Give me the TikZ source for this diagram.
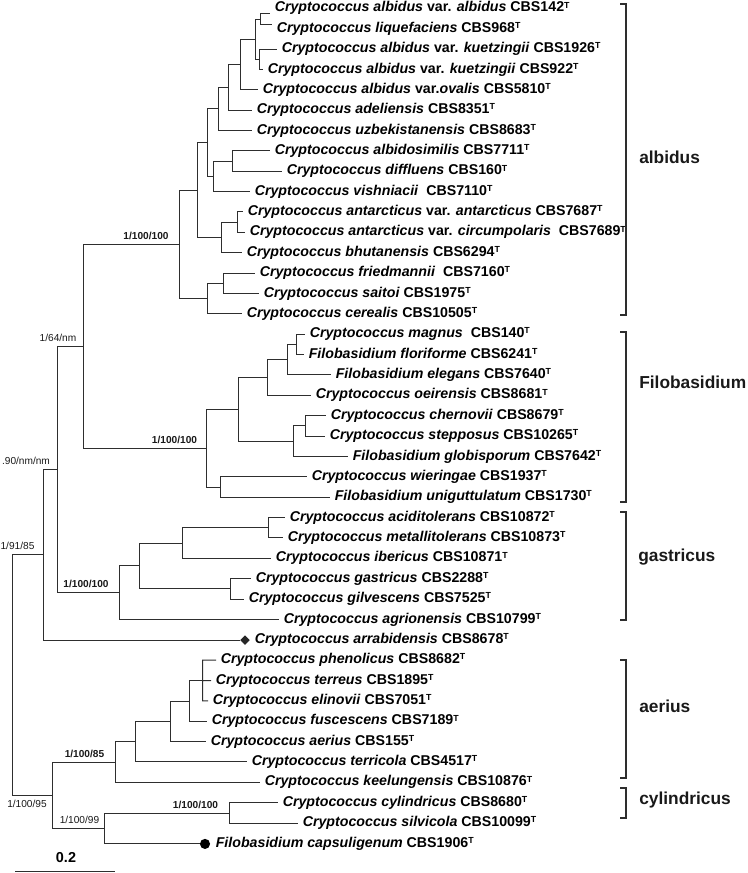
\documentclass[tikz,border=0pt]{standalone}
\usepackage{fontspec}
\setmainfont{Liberation Sans}
\usetikzlibrary{shapes.geometric}
\tikzset{
  br/.style={draw=black!82, line width=0.75pt},
  brk/.style={draw=black!82, line width=0.85pt},
  leaf/.style={anchor=west, inner xsep=3.4pt, inner ysep=0pt, text height=7.6pt, text depth=2.2pt,
    font=\fontsize{10.65}{12}\selectfont\bfseries, text=black},
  supb/.style={font=\fontsize{7.6}{9}\selectfont\bfseries, inner sep=0pt, text=black!90},
  supr/.style={font=\fontsize{7.6}{9}\selectfont, inner sep=0pt, text=black!90},
  clade/.style={anchor=west, font=\fontsize{13}{15}\selectfont\bfseries, inner sep=0pt, text=black!90},
}
\newcommand\supT{\raisebox{0.27em}{\fontsize{6.6}{7}\selectfont T}}
\newcommand\lf[4]{\node[leaf] (#1) at (#2,{8.3+20.37*(#3-1)}) {#4\supT};}
\newcommand\cc[1]{\textit{Cryptococcus #1}}
\newcommand\ff[1]{\textit{Filobasidium #1}}
\begin{document}
\begin{tikzpicture}[x=0.75pt,y=-0.75pt]
\useasboundingbox (0,0) rectangle (748,873);
% ---------- leaves ----------
\lf{l1}{270}{1}{\cc{albidus} var. \textit{albidus} CBS142}
\lf{l2}{272}{2}{\cc{liquefaciens} CBS968}
\lf{l3}{277}{3}{\cc{albidus} var. \textit{kuetzingii} CBS1926}
\lf{l4}{263}{4}{\cc{albidus} var. \textit{kuetzingii} CBS922}
\lf{l5}{258}{5}{\cc{albidus} var.\textit{ovalis} CBS5810}
\lf{l6}{252}{6}{\cc{adeliensis} CBS8351}
\lf{l7}{252}{7}{\cc{uzbekistanensis} CBS8683}
\lf{l8}{270}{8}{\cc{albidosimilis} CBS7711}
\lf{l9}{282}{9}{\cc{diffluens} CBS160}
\lf{l10}{250}{10}{\cc{vishniacii}\ \ CBS7110}
\lf{l11}{243}{11}{\cc{antarcticus} var. \textit{antarcticus} CBS7687}
\lf{l12}{245}{12}{\cc{antarcticus} var. \textit{circumpolaris}\ \ CBS7689}
\lf{l13}{242}{13}{\cc{bhutanensis} CBS6294}
\lf{l14}{255}{14}{\cc{friedmannii}\ \ CBS7160}
\lf{l15}{259}{15}{\cc{saitoi} CBS1975}
\lf{l16}{242}{16}{\cc{cerealis} CBS10505}
\lf{l17}{305}{17}{\cc{magnus}\ \ CBS140}
\lf{l18}{304}{18}{\ff{floriforme} CBS6241}
\lf{l19}{331}{19}{\ff{elegans} CBS7640}
\lf{l20}{311}{20}{\cc{oeirensis} CBS8681}
\lf{l21}{326}{21}{\cc{chernovii} CBS8679}
\lf{l22}{325}{22}{\cc{stepposus} CBS10265}
\lf{l23}{348}{23}{\ff{globisporum} CBS7642}
\lf{l24}{307}{24}{\cc{wieringae} CBS1937}
\lf{l25}{330}{25}{\ff{uniguttulatum} CBS1730}
\lf{l26}{285}{26}{\cc{aciditolerans} CBS10872}
\lf{l27}{283}{27}{\cc{metallitolerans} CBS10873}
\lf{l28}{271}{28}{\cc{ibericus} CBS10871}
\lf{l29}{251}{29}{\cc{gastricus} CBS2288}
\lf{l30}{244}{30}{\cc{gilvescens} CBS7525}
\lf{l31}{279}{31}{\cc{agrionensis} CBS10799}
\lf{l32}{250}{32}{\cc{arrabidensis} CBS8678}
\lf{l33}{216}{33}{\cc{phenolicus} CBS8682}
\lf{l34}{211}{34}{\cc{terreus} CBS1895}
\lf{l35}{208}{35}{\cc{elinovii} CBS7051}
\lf{l36}{207}{36}{\cc{fuscescens} CBS7189}
\lf{l37}{206}{37}{\cc{aerius} CBS155}
\lf{l38}{247}{38}{\cc{terricola} CBS4517}
\lf{l39}{260}{39}{\cc{keelungensis} CBS10876}
\lf{l40}{278}{40}{\cc{cylindricus} CBS8680}
\lf{l41}{298}{41}{\cc{silvicola} CBS10099}
\lf{l42}{211}{42}{\ff{capsuligenum} CBS1906}
\node[diamond, fill=black!85, inner sep=0pt, minimum size=7.2pt] (dm) at (245,640.1) {};
\node[circle, fill=black, inner sep=0pt, minimum size=7.6pt] (dot) at (205,843.9) {};
\coordinate (t1) at (270,14);
\coordinate (t2) at (272,25);
% ---------- internal nodes ----------
\coordinate (N1) at (260,19.5);
\coordinate (N2) at (259,59.2);
\coordinate (N12) at (255,39.35);
\coordinate (N125) at (240,64.6);
\coordinate (N126) at (228,87.4);
\coordinate (N127) at (218,109);
\coordinate (N89) at (232,161.1);
\coordinate (N810) at (213,176.4);
\coordinate (N110) at (207,142.7);
\coordinate (N1112) at (237,222.2);
\coordinate (N1113) at (221,237.5);
\coordinate (N113) at (197,190.1);
\coordinate (N1415) at (223,283.3);
\coordinate (N1416) at (207,298.6);
\coordinate (Nalb) at (179,244.35);
\coordinate (F1718) at (296,344.4);
\coordinate (F1719) at (287,359.7);
\coordinate (F1720) at (267,377.5);
\coordinate (F2122) at (305,425.9);
\coordinate (F2123) at (293,441.2);
\coordinate (F1723) at (238,409.35);
\coordinate (F2425) at (220,487);
\coordinate (Ffil) at (206,448.2);
\coordinate (NAF) at (83,346.3);
\coordinate (G2627) at (268,527.7);
\coordinate (G2628) at (182,543);
\coordinate (G2930) at (230,588.9);
\coordinate (G2630) at (139,565.95);
\coordinate (G2631) at (119,592.8);
\coordinate (NAFG) at (57,469.55);
\coordinate (N90) at (43,554.8);
\coordinate (T3335) at (202.5,680.7);
\coordinate (A3336) at (189,701);
\coordinate (A3337) at (170,721.4);
\coordinate (A3338) at (135,741.75);
\coordinate (A3339) at (115,762.1);
\coordinate (C4041) at (229,813.1);
\coordinate (C4042) at (104,828.5);
\coordinate (AC) at (52,795.3);
\coordinate (root) at (12,675);
% ---------- branches ----------
\draw[br] (N1) |- (t1) (N1) |- (t2);
\draw[br] (N2) |- (l3) (N2) |- (l4);
\draw[br] (N12) |- (N1) (N12) |- (N2);
\draw[br] (N125) |- (N12) (N125) |- (l5);
\draw[br] (N126) |- (N125) (N126) |- (l6);
\draw[br] (N127) |- (N126) (N127) |- (l7);
\draw[br] (N89) |- (l8) (N89) |- (l9);
\draw[br] (N810) |- (N89) (N810) |- (l10);
\draw[br] (N110) |- (N127) (N110) |- (N810);
\draw[br] (N1112) |- (l11) (N1112) |- (l12);
\draw[br] (N1113) |- (N1112) (N1113) |- (l13);
\draw[br] (N113) |- (N110) (N113) |- (N1113);
\draw[br] (N1415) |- (l14) (N1415) |- (l15);
\draw[br] (N1416) |- (N1415) (N1416) |- (l16);
\draw[br] (Nalb) |- (N113) (Nalb) |- (N1416);
\draw[br] (F1718) |- (l17) (F1718) |- (l18);
\draw[br] (F1719) |- (F1718) (F1719) |- (l19);
\draw[br] (F1720) |- (F1719) (F1720) |- (l20);
\draw[br] (F2122) |- (l21) (F2122) |- (l22);
\draw[br] (F2123) |- (F2122) (F2123) |- (l23);
\draw[br] (F1723) |- (F1720) (F1723) |- (F2123);
\draw[br] (F2425) |- (l24) (F2425) |- (l25);
\draw[br] (Ffil) |- (F1723) (Ffil) |- (F2425);
\draw[br] (NAF) |- (Nalb) (NAF) |- (Ffil);
\draw[br] (G2627) |- (l26) (G2627) |- (l27);
\draw[br] (G2628) |- (G2627) (G2628) |- (l28);
\draw[br] (G2930) |- (l29) (G2930) |- (l30);
\draw[br] (G2630) |- (G2628) (G2630) |- (G2930);
\draw[br] (G2631) |- (G2630) (G2631) |- (l31);
\draw[br] (NAFG) |- (NAF) (NAFG) |- (G2631);
\draw[br] (N90) |- (NAFG) (N90) |- (dm);
\draw[br] (T3335) |- (l33) (T3335) |- (l35) (T3335) -- (l34);
\draw[br] (A3336) |- (T3335) (A3336) |- (l36);
\draw[br] (A3337) |- (A3336) (A3337) |- (l37);
\draw[br] (A3338) |- (A3337) (A3338) |- (l38);
\draw[br] (A3339) |- (A3338) (A3339) |- (l39);
\draw[br] (C4041) |- (l40) (C4041) |- (l41);
\draw[br] (C4042) |- (C4041) (C4042) |- (dot);
\draw[br] (AC) |- (A3339) (AC) |- (C4042);
\draw[br] (root) |- (N90) (root) |- (AC);
% ---------- support values ----------
\node[supb] (s1) at (146,236) {1/100/100};
\node[supr] (s2) at (58,337.8) {1/64/nm};
\node[supb] (s3) at (174.5,439.7) {1/100/100};
\node[supr] (s4) at (26,461) {.90/nm/nm};
\node[supb] (s5) at (86,584.3) {1/100/100};
\node[supr] (s6) at (17.5,546.3) {1/91/85};
\node[supb] (s7) at (84.5,753.6) {1/100/85};
\node[supb] (s8) at (195.5,804.6) {1/100/100};
\node[supr] (s9) at (79.5,820) {1/100/99};
\node[supr] (s10) at (27,804) {1/100/95};
% ---------- clade brackets ----------
\draw[brk] (620,4) -- (626,4) -- (626,315) -- (620,315);
\draw[brk] (620,332) -- (626,332) -- (626,502) -- (620,502);
\draw[brk] (620,512) -- (626,512) -- (626,620) -- (620,620);
\draw[brk] (620,660) -- (626,660) -- (626,778) -- (620,778);
\draw[brk] (620,788) -- (626,788) -- (626,818) -- (620,818);
\node[clade] (c1) at (639,157) {albidus};
\node[clade] (c2) at (639,382) {Filobasidium};
\node[clade] (c3) at (638,557) {gastricus};
\node[clade] (c4) at (639,706) {aerius};
\node[clade] (c5) at (639,800) {cylindricus};
% ---------- scale bar ----------
\coordinate (sb1) at (15,871);
\coordinate (sb2) at (115,871);
\draw[br] (sb1) -- (sb2);
\node[font=\fontsize{10.8}{12}\selectfont\bfseries, inner sep=0pt] (sbl) at (66,858) {0.2};
\end{tikzpicture}
\end{document}
